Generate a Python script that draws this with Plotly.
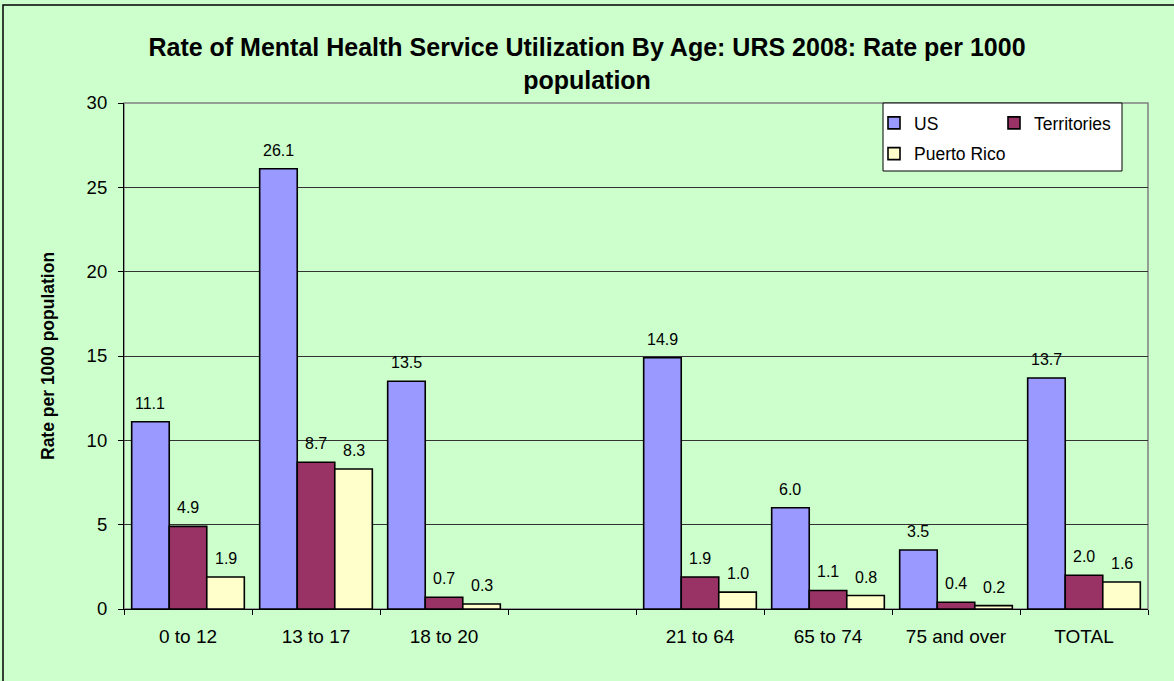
import plotly.graph_objects as go

categories = ["0 to 12", "13 to 17", "18 to 20", " ", "21 to 64", "65 to 74", "75 and over", "TOTAL"]
us = [11.1, 26.1, 13.5, None, 14.9, 6.0, 3.5, 13.7]
territories = [4.9, 8.7, 0.7, None, 1.9, 1.1, 0.4, 2.0]
puerto_rico = [1.9, 8.3, 0.3, None, 1.0, 0.8, 0.2, 1.6]
series_names = ["US", "Territories", "Puerto Rico"]
y_ticks = [0, 5, 10, 15, 20, 25, 30]

FONT = "Liberation Sans, Arial, sans-serif"
BG = "#CCFFCC"
colors = ["#9999FF", "#993366", "#FFFFCC"]
series = [us, territories, puerto_rico]
legends = ["legend", "legend2", "legend"]

W, H = 1174, 681
L, R, T, B = 124, 26, 103, 72
plot_w = W - L - R
plot_h = H - T - B
bargap = 0.12
bar_px = plot_w / len(categories) * (1 - bargap) / 3

fig = go.Figure()
for i, (name, vals) in enumerate(zip(series_names, series)):
    fig.add_trace(go.Bar(
        x=categories, y=vals, name=name,
        marker=dict(color=colors[i], line=dict(color="black", width=1.6)),
        legend=legends[i], legendgroup=name,
    ))

annotations = []
for i, vals in enumerate(series):
    for c, v in zip(categories, vals):
        if v is None:
            continue
        annotations.append(dict(
            x=c, y=v, xref="x", yref="y", text=f"{v:.1f}", showarrow=False,
            xanchor="center", yanchor="bottom", xshift=(i - 1) * bar_px, yshift=8,
            font=dict(family=FONT, size=16, color="black"),
        ))

# y-axis title
annotations.append(dict(
    x=(48 - L) / plot_w, y=0.5, xref="paper", yref="paper",
    text="<b>Rate per 1000 population</b>", textangle=-90, showarrow=False,
    xanchor="center", yanchor="middle",
    font=dict(family=FONT, size=17.5, color="black"),
))

def px_x(x):
    return (x - L) / plot_w

def px_y(y):
    return (H - B - y) / plot_h

shapes = [
    # outer chart border
    dict(type="rect", xref="paper", yref="paper", x0=px_x(3), x1=px_x(1190), y0=px_y(700), y1=px_y(5),
         line=dict(color="black", width=1.5), fillcolor="rgba(0,0,0,0)", layer="below"),
    # plot area border
    dict(type="rect", xref="paper", yref="paper", x0=0, x1=1, y0=0, y1=1,
         line=dict(color="#808080", width=1.5), fillcolor="rgba(0,0,0,0)", layer="below"),
    # legend box
    dict(type="rect", xref="paper", yref="paper", x0=px_x(883), x1=px_x(1122), y0=px_y(171), y1=px_y(103),
         line=dict(color="black", width=1), fillcolor="white", layer="above"),
]

fig.update_layout(
    width=W, height=H,
    margin=dict(l=L, r=R, t=T, b=B),
    paper_bgcolor=BG, plot_bgcolor=BG,
    barmode="group", bargap=bargap, bargroupgap=0,
    font=dict(family=FONT, color="black"),
    title=dict(
        text="<b>Rate of Mental Health Service Utilization By Age: URS 2008: Rate per 1000<br>population</b>",
        x=0.5, xref="container", xanchor="center", y=1 - 56 / H, yref="container", yanchor="middle",
        font=dict(family=FONT, size=25, color="black"),
    ),
    xaxis=dict(
        type="category", categoryorder="array", categoryarray=categories,
        showline=True, linecolor="black", linewidth=1.2,
        ticks="outside", ticklen=5, tickcolor="black", tickson="boundaries",
        tickfont=dict(family=FONT, size=19, color="black"),
        ticklabelstandoff=10, showgrid=False,
    ),
    yaxis=dict(
        range=[0, 30], tickvals=y_ticks, showline=True, linecolor="black", linewidth=1.2,
        ticks="outside", ticklen=5, tickcolor="black",
        tickfont=dict(family=FONT, size=18.5, color="black"), ticklabelstandoff=7,
        showgrid=True, gridcolor="#333333", gridwidth=1, zeroline=False,
    ),
    legend=dict(
        x=px_x(874), y=px_y(105), xanchor="left", yanchor="top", orientation="v",
        bgcolor="rgba(0,0,0,0)", borderwidth=0, traceorder="grouped", tracegroupgap=5,
        font=dict(family=FONT, size=17.5, color="black"),
    ),
    legend2=dict(
        x=px_x(994), y=px_y(105), xanchor="left", yanchor="top", orientation="v",
        bgcolor="rgba(0,0,0,0)", borderwidth=0,
        font=dict(family=FONT, size=17.5, color="black"),
    ),
    annotations=annotations,
    shapes=shapes,
    showlegend=True,
)

fig.write_html("out.html", config={"displayModeBar": False},
               post_script="document.body.style.margin='0';")
